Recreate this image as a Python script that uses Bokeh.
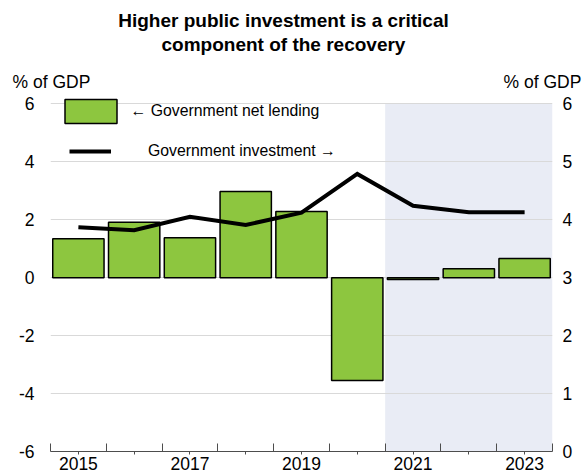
from bokeh.plotting import figure
from bokeh.models import (Range1d, LinearAxis, FixedTicker, BoxAnnotation,
                          Legend, LegendItem)
from bokeh.embed import file_html
from bokeh.resources import INLINE

# ---------------- data ----------------
years = [2015, 2016, 2017, 2018, 2019, 2020, 2021, 2022, 2023]
net_lending = [1.34, 1.91, 1.38, 2.97, 2.28, -3.55, -0.06, 0.31, 0.66]   # left axis, % of GDP
investment = [3.87, 3.82, 4.05, 3.91, 4.12, 4.79, 4.24, 4.13, 4.13]      # right axis, % of GDP
left_ticks = [-6, -4, -2, 0, 2, 4, 6]
right_ticks = [0, 1, 2, 3, 4, 5, 6]
label_years = [2015, 2017, 2019, 2021, 2023]
projection_start = 2021
title_lines = ["Higher public investment is a critical", "component of the recovery"]
unit_label = "% of GDP"
series_names = ["\u2190 Government net lending", "Government investment \u2192"]

# ---------------- style / layout ----------------
FONT = "Liberation Sans"
GREEN = "#8DC63F"
SHADE = "#E9ECF5"
GRID = "#D9D9D9"
AXIS = "#4D4D4D"
W, H = 585, 472
LEFT_B, RIGHT_B, TOP_B = 50, 33, 94
FW = W - LEFT_B - RIGHT_B
FH_EST = 357          # expected frame height
TOP_PAD = 9.3         # pixels between frame top and the top gridline
UNIT_POS = [1, 492]   # unit-label anchors, pixels from frame left
TITLE_POS = 233       # title centre, pixels from frame left

span = left_ticks[-1] - left_ticks[0]
y_end = left_ticks[0] + span * FH_EST / (FH_EST - TOP_PAD)
r_end = right_ticks[0] + (right_ticks[-1] - right_ticks[0]) * (y_end - left_ticks[0]) / span

x0, x1 = years[0] - 0.5, years[-1] + 0.5
p = figure(width=W, height=H, title=None,
           x_range=Range1d(x0, x1), y_range=Range1d(left_ticks[0], y_end),
           output_backend="svg", toolbar_location=None, tools="",
           min_border_left=LEFT_B, min_border_right=RIGHT_B, min_border_top=TOP_B,
           min_border_bottom=0)
p.outline_line_color = None
p.background_fill_color = "white"
p.border_fill_color = "white"

# projection shading (up to the top gridline)
p.add_layout(BoxAnnotation(left=projection_start - 0.5, top=left_ticks[-1],
                           fill_color=SHADE, fill_alpha=1, line_color=None, level="image"))

# grid
p.xgrid.grid_line_color = None
p.ygrid.ticker = FixedTicker(ticks=left_ticks)
p.ygrid.grid_line_color = GRID
p.ygrid.grid_line_width = 1

# left axis
p.yaxis.ticker = FixedTicker(ticks=left_ticks)
p.yaxis.major_label_overrides = {t: str(t) for t in left_ticks}
p.yaxis.axis_line_color = None
p.yaxis.major_tick_line_color = None
p.yaxis.minor_tick_line_color = None
p.yaxis.major_label_standoff = 10
p.yaxis.major_label_text_font = FONT
p.yaxis.major_label_text_font_size = "17.5px"
p.yaxis.major_label_text_color = "black"

# right axis
p.extra_y_ranges = {"inv": Range1d(right_ticks[0], r_end)}
ra = LinearAxis(y_range_name="inv", ticker=FixedTicker(ticks=right_ticks))
ra.major_label_overrides = {t: str(t) for t in right_ticks}
ra.axis_line_color = None
ra.major_tick_line_color = None
ra.minor_tick_line_color = None
ra.major_label_standoff = 4
ra.major_label_text_font = FONT
ra.major_label_text_font_size = "17.5px"
ra.major_label_text_color = "black"
p.add_layout(ra, "right")

# bottom axis
bounds = [y - 0.5 for y in years] + [years[-1] + 0.5]
p.xaxis.ticker = FixedTicker(ticks=years, minor_ticks=bounds)
p.xaxis.major_label_overrides = {y: (str(y) if y in label_years else "") for y in years}
p.xaxis.axis_line_color = AXIS
p.xaxis.major_tick_line_color = AXIS
p.xaxis.major_tick_in = 0
p.xaxis.major_tick_out = 3
p.xaxis.minor_tick_line_color = AXIS
p.xaxis.minor_tick_in = 8
p.xaxis.minor_tick_out = 0
p.xaxis.major_label_standoff = 2
p.xaxis.major_label_text_font = FONT
p.xaxis.major_label_text_font_size = "17.5px"
p.xaxis.major_label_text_color = "black"

# header rows above the frame: unit labels, then the two title lines
p.extra_x_ranges = {"px": Range1d(0, FW)}


def header_row(ticks, labels, size, style, standoff):
    ax = LinearAxis(x_range_name="px", ticker=FixedTicker(ticks=ticks))
    ax.major_label_overrides = dict(zip(ticks, labels))
    ax.axis_line_color = None
    ax.major_tick_line_color = None
    ax.minor_tick_line_color = None
    ax.major_tick_in = 0
    ax.major_tick_out = 0
    ax.major_label_standoff = standoff
    ax.major_label_text_font = FONT
    ax.major_label_text_font_size = size
    ax.major_label_text_font_style = style
    ax.major_label_text_color = "black"
    p.add_layout(ax, "above")


header_row(UNIT_POS, [unit_label, unit_label], "17.5px", "normal", 3)
header_row([TITLE_POS], [title_lines[1]], "19px", "bold", 14)
header_row([TITLE_POS], [title_lines[0]], "19px", "bold", 0)

# marks
bars = p.vbar(x=years, top=net_lending, width=0.92, fill_color=GREEN,
              line_color="black", line_width=1.5)
line = p.line(years, investment, y_range_name="inv", line_color="black",
              line_width=4, line_join="miter")

# legends
leg1 = Legend(items=[LegendItem(label=series_names[0], renderers=[bars])],
              location=(7.5, 325), glyph_width=65, glyph_height=30,
              label_standoff=8, padding=0, margin=0, spacing=0,
              border_line_color=None, background_fill_alpha=0,
              label_text_font=FONT, label_text_font_size="15.8px",
              label_text_color="black")
leg2 = Legend(items=[LegendItem(label=series_names[1], renderers=[line])],
              location=(19, 288), glyph_width=42, glyph_height=24,
              label_standoff=37, padding=0, margin=0, spacing=0,
              border_line_color=None, background_fill_alpha=0,
              label_text_font=FONT, label_text_font_size="15.8px",
              label_text_color="black")
p.add_layout(leg1, "center")
p.add_layout(leg2, "center")

open("out.html", "w").write(file_html(p, INLINE))
